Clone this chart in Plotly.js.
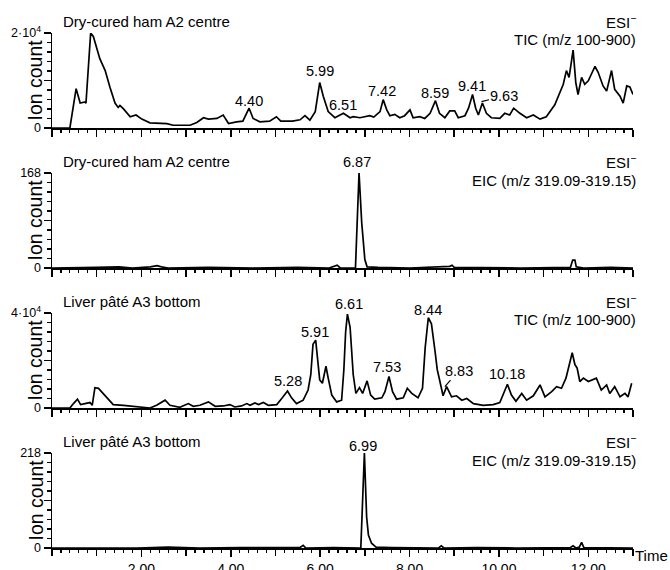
<!DOCTYPE html>
<html>
<head>
<meta charset="utf-8">
<script src="https://cdn.plot.ly/plotly-3.0.1.min.js"></script>
<style>html,body{margin:0;padding:0;background:#fff;}#chart{width:670px;height:570px;}</style>
</head>
<body>
<div id="chart"></div>
<script>
// ---------- DATA (retention time in min, ion count) ----------
// Panel 1: Dry-cured ham A2 centre, TIC (m/z 100-900)
const ham_tic_t = [0,0.40,0.54,0.63,0.74,0.76,0.865,0.925,1.07,1.19,1.30,1.41,1.48,1.52,1.60,1.75,1.88,2.01,2.19,2.57,2.71,3.09,3.24,3.39,3.50,3.69,3.83,3.95,4.13,4.27,4.41,4.50,4.65,4.87,5.02,5.12,5.38,5.55,5.66,5.77,5.89,5.99,6.07,6.18,6.33,6.52,6.67,6.74,6.89,7.11,7.20,7.34,7.41,7.49,7.56,7.67,7.78,7.89,8.01,8.08,8.23,8.34,8.46,8.58,8.67,8.79,8.90,9.01,9.09,9.24,9.32,9.41,9.48,9.54,9.63,9.72,9.83,10.02,10.13,10.24,10.33,10.47,10.62,10.77,10.92,11.06,11.25,11.36,11.44,11.51,11.57,11.66,11.72,11.77,11.85,11.92,12.00,12.07,12.15,12.22,12.33,12.41,12.52,12.59,12.71,12.78,12.86,12.93,13.00];
const ham_tic_y = [0,0,8270,5250,5470,5200,20000,19280,14600,12090,8490,5250,4320,4750,4030,2370,2730,1870,1080,935,575,575,1150,2160,1870,2010,2730,935,1290,1440,4170,2010,1290,1440,2370,1440,1440,1730,2590,1650,3450,9570,6690,3450,2160,3090,2160,2370,2160,2590,2300,3450,5970,3810,2590,2880,2160,2590,3810,2160,2370,2010,3090,5760,3090,2160,3600,3600,2160,2590,4170,7050,4170,2730,5250,3090,2160,2010,3090,2730,4170,3090,2160,2730,1870,2370,4890,7410,9210,12090,10650,16400,9570,7050,10650,9210,9930,11370,12950,11730,8850,7770,12090,8130,6690,5250,8850,8630,7050];

// Panel 2: Dry-cured ham A2 centre, EIC (m/z 319.09-319.15)
const ham_eic_t = [0,0.40,1.00,1.50,1.80,2.20,2.35,2.45,2.60,3.50,4.50,5.50,6.20,6.38,6.45,6.79,6.87,6.93,7.00,7.05,7.30,8.00,8.90,8.95,9.00,10.50,11.00,11.60,11.65,11.70,11.73,11.90,12.50,13.00];
const ham_eic_y = [0,0,1,2,0,2,4,2,0,1,0,1,0,5,0,0,168,80,15,2,1,0,3,5,1,0,1,1,14,14,2,0,1,0];

// Panel 3: Liver pâté A3 bottom, TIC (m/z 100-900)
const pate_tic_t = [0,0.40,0.48,0.57,0.64,0.74,0.85,0.90,0.96,1.04,1.15,1.26,1.37,1.60,1.82,2.04,2.19,2.34,2.53,2.64,2.86,3.05,3.16,3.31,3.50,3.65,3.83,3.98,4.09,4.24,4.36,4.43,4.54,4.62,4.73,4.84,5.03,5.14,5.27,5.36,5.47,5.62,5.73,5.79,5.84,5.90,5.94,5.99,6.05,6.13,6.18,6.26,6.37,6.48,6.53,6.57,6.61,6.67,6.74,6.80,6.88,6.95,7.05,7.13,7.22,7.38,7.45,7.54,7.62,7.71,7.86,7.95,8.05,8.19,8.29,8.35,8.42,8.49,8.57,8.62,8.68,8.75,8.83,8.94,9.05,9.17,9.28,9.43,9.65,9.87,10.02,10.13,10.19,10.28,10.38,10.51,10.62,10.77,10.92,11.03,11.18,11.29,11.40,11.50,11.59,11.64,11.70,11.75,11.81,11.89,12.00,12.11,12.18,12.29,12.41,12.48,12.59,12.71,12.82,12.89,12.97];
const pate_tic_y = [0,0,1860,3710,1430,1860,2290,1140,8570,8290,6140,3710,1430,1140,710,570,0,1140,3290,1140,290,1860,710,1140,2570,710,860,1430,430,860,1860,1140,2140,1430,2290,1140,1430,4000,7140,4290,1860,3290,7570,14000,26860,28570,21140,11860,10430,17570,12570,5430,2570,3290,16000,32000,39500,34000,14000,6140,8570,6140,11430,5430,3710,4290,6860,13290,6860,3710,4290,8290,6140,4290,8290,25430,38000,35430,24000,16140,11140,5140,9000,4710,5140,3290,4000,1860,1140,1430,2290,7570,10000,5430,2860,6140,3290,5140,9710,4710,6860,9000,8290,12570,19000,23290,18290,16860,11140,12570,11140,11860,12570,7570,9710,6140,9000,4710,6140,4710,10430];

// Panel 4: Liver pâté A3 bottom, EIC (m/z 319.09-319.15)
const pate_eic_t = [0,0.40,1.20,1.90,2.60,3.30,4.20,5.00,5.55,5.62,5.68,6.30,6.91,6.99,7.01,7.04,7.08,7.15,7.25,7.60,8.65,8.71,8.77,9.50,10.40,11.60,11.66,11.72,11.80,11.85,11.90,12.50,13.00];
const pate_eic_y = [0,0,1,0,2,0,1,0,1,6,0,1,0,218,165,71,30,11,2,1,0,5,0,1,0,1,5,0,2,13,1,1,0];

// Axis tops and tick text
const yTops = [20000, 168, 40000, 218];
const yTopLabels = ["2·10<sup>4</sup>", "168", "4·10<sup>4</sup>", "218"];
const xTickVals = [2, 4, 6, 8, 10, 12];
const xTickText = ["2.00", "4.00", "6.00", "8.00", "10.00", "12.00"];
const sampleNames = ["Dry-cured ham A2 centre", "Dry-cured ham A2 centre", "Liver pâté A3 bottom", "Liver pâté A3 bottom"];
const modeNames = ["TIC (m/z 100-900)", "EIC (m/z 319.09-319.15)", "TIC (m/z 100-900)", "EIC (m/z 319.09-319.15)"];
// peak labels: [panel, label, x(min), y(count)]
const peakLabels = [
  [1,"4.40",4.41,5750],[1,"5.99",6.00,11940],[1,"6.51",6.51,4840],[1,"7.42",7.38,7725],
  [1,"8.59",8.57,7370],[1,"9.41",9.39,8780],
  [2,"6.87",6.83,188],
  [3,"5.28",5.28,11580],[3,"5.91",5.88,32200],[3,"6.61",6.64,43800],[3,"7.53",7.50,17130],
  [3,"8.44",8.42,41260],[3,"10.18",10.17,14310],
  [4,"6.99",6.96,234]
];
// labels with leader lines: [panel, label, x, y, ax, ay]
const leaderLabels = [[1,"9.63",9.61,5540,23,-6],[3,"8.83",8.79,8970,14,-16]];

// ---------- LAYOUT ----------
const FONT = "'Liberation Sans', Arial, Helvetica, sans-serif";
const xs = [ham_tic_t, ham_eic_t, pate_tic_t, pate_eic_t];
const ys = [ham_tic_y, ham_eic_y, pate_tic_y, pate_eic_y];

const H = 515, panelH = 95, gap = 140;
const traces = [];
const layout = {
  width: 670, height: 570,
  margin: {l: 52, r: 37, t: 33, b: 22},
  paper_bgcolor: "#fff", plot_bgcolor: "#fff",
  showlegend: false,
  font: {family: FONT, color: "#000"},
  annotations: []
};
const tickStyle = {ticks: "outside", ticklen: 7, tickwidth: 1.5, tickcolor: "#000"};
const minorStyle = {ticks: "outside", ticklen: 3.5, tickwidth: 1.2, tickcolor: "#000", showgrid: false};

for (let i = 0; i < 4; i++) {
  const n = i + 1;
  const sx = n === 1 ? "" : String(n);
  traces.push({
    x: xs[i], y: ys[i], type: "scatter", mode: "lines",
    line: {color: "#000", width: 1.7},
    xaxis: "x" + sx, yaxis: "y" + sx, hoverinfo: "skip"
  });
  const topPx = 33 + gap * i;
  const d1 = (548 - topPx) / H;
  const d0 = (548 - topPx - panelH) / H;
  const top = yTops[i];
  layout["xaxis" + sx] = Object.assign({
    domain: [0, 1], anchor: "y" + sx, range: [0, 13.0],
    showline: true, linecolor: "#000", linewidth: 1.5,
    tickmode: "linear", tick0: 0, dtick: 1,
    minor: Object.assign({dtick: 0.2, tick0: 0}, minorStyle),
    showgrid: false, zeroline: false, fixedrange: true,
    showticklabels: false
  }, tickStyle);
  layout["yaxis" + sx] = Object.assign({
    domain: [d0, d1], anchor: "x" + sx, range: [0, top],
    showline: true, linecolor: "#000", linewidth: 1.5,
    tickmode: "array", tickvals: [0, top], ticktext: ["0", yTopLabels[i]],
    minor: Object.assign({tickmode: "linear", tick0: 0, dtick: top / 10}, minorStyle),
    tickfont: {family: FONT, size: 12.5, color: "#000"},
    showgrid: false, zeroline: false, fixedrange: true
  }, tickStyle);
  // overlay y axis carrying the long unlabelled middle tick
  const oy = "yaxis" + (5 + i);
  layout[oy] = Object.assign({
    overlaying: "y" + sx, anchor: "x" + sx, side: "left", range: [0, top],
    showline: false, tickmode: "array", tickvals: [top / 2], showticklabels: false,
    showgrid: false, zeroline: false, fixedrange: true
  }, tickStyle);
  traces.push({x: [], y: [], type: "scatter", mode: "lines", xaxis: "x" + sx, yaxis: "y" + (5 + i), hoverinfo: "skip"});

  const midPx = topPx + panelH / 2;
  layout.annotations.push({
    xref: "paper", yref: "paper", x: (35 - 52) / 581, y: (548 - midPx) / H,
    text: "Ion count", textangle: -90, showarrow: false, xanchor: "center", yanchor: "middle",
    font: {family: FONT, size: 19.5, color: "#000"}
  });
  layout.annotations.push({
    xref: "paper", yref: "paper", x: (61 - 52) / 581, y: (548 - (21 + gap * i)) / H,
    text: sampleNames[i], showarrow: false, xanchor: "left", yanchor: "middle",
    font: {family: FONT, size: 15, color: "#000"}
  });
  layout.annotations.push({
    xref: "paper", yref: "paper", x: (638 - 52) / 581, y: (548 - (21.5 + gap * i)) / H,
    text: "ESI<sup>−</sup>", showarrow: false, xanchor: "right", yanchor: "middle",
    font: {family: FONT, size: 15, color: "#000"}
  });
  layout.annotations.push({
    xref: "paper", yref: "paper", x: (638 - 52) / 581, y: (548 - (40 + gap * i)) / H,
    text: modeNames[i], showarrow: false, xanchor: "right", yanchor: "middle",
    font: {family: FONT, size: 15, color: "#000"}
  });
}

// bottom axis: labelled every 2 min; overlay axis gives the long tick every minute
Object.assign(layout.xaxis4, {
  showticklabels: true, tickmode: "array", tickvals: xTickVals, ticktext: xTickText,
  tickfont: {family: FONT, size: 14, color: "#000"}, ticklabelstandoff: 1
});
layout.xaxis5 = Object.assign({
  overlaying: "x4", anchor: "y4", side: "bottom", range: [0, 13.0],
  showline: false, tickmode: "linear", tick0: 0, dtick: 1, showticklabels: false,
  showgrid: false, zeroline: false, fixedrange: true
}, tickStyle);
traces.push({x: [], y: [], type: "scatter", mode: "lines", xaxis: "x5", yaxis: "y4", hoverinfo: "skip"});

peakLabels.forEach(p => {
  const sx = p[0] === 1 ? "" : String(p[0]);
  const top = yTops[p[0] - 1];
  const inside = p[3] <= top;
  layout.annotations.push({
    xref: "x" + sx, yref: "y" + sx, x: p[2], y: inside ? p[3] : top,
    yshift: inside ? 0 : (p[3] - top) / top * panelH,
    text: p[1], showarrow: false, xanchor: "center", yanchor: "middle",
    font: {family: FONT, size: 14.5, color: "#000"}
  });
});
leaderLabels.forEach(p => {
  const sx = p[0] === 1 ? "" : String(p[0]);
  layout.annotations.push({
    xref: "x" + sx, yref: "y" + sx, x: p[2], y: p[3], text: p[1],
    showarrow: true, arrowhead: 0, arrowwidth: 1.2, arrowcolor: "#000",
    ax: p[4], ay: p[5],
    font: {family: FONT, size: 14.5, color: "#000"}
  });
});
layout.annotations.push({
  xref: "paper", yref: "paper", x: 1.0, y: (548 - 555) / H,
  text: "Time", showarrow: false, xanchor: "left", yanchor: "middle",
  font: {family: FONT, size: 15, color: "#000"}
});

Plotly.newPlot("chart", traces, layout, {displayModeBar: false, staticPlot: true});
</script>
</body>
</html>
